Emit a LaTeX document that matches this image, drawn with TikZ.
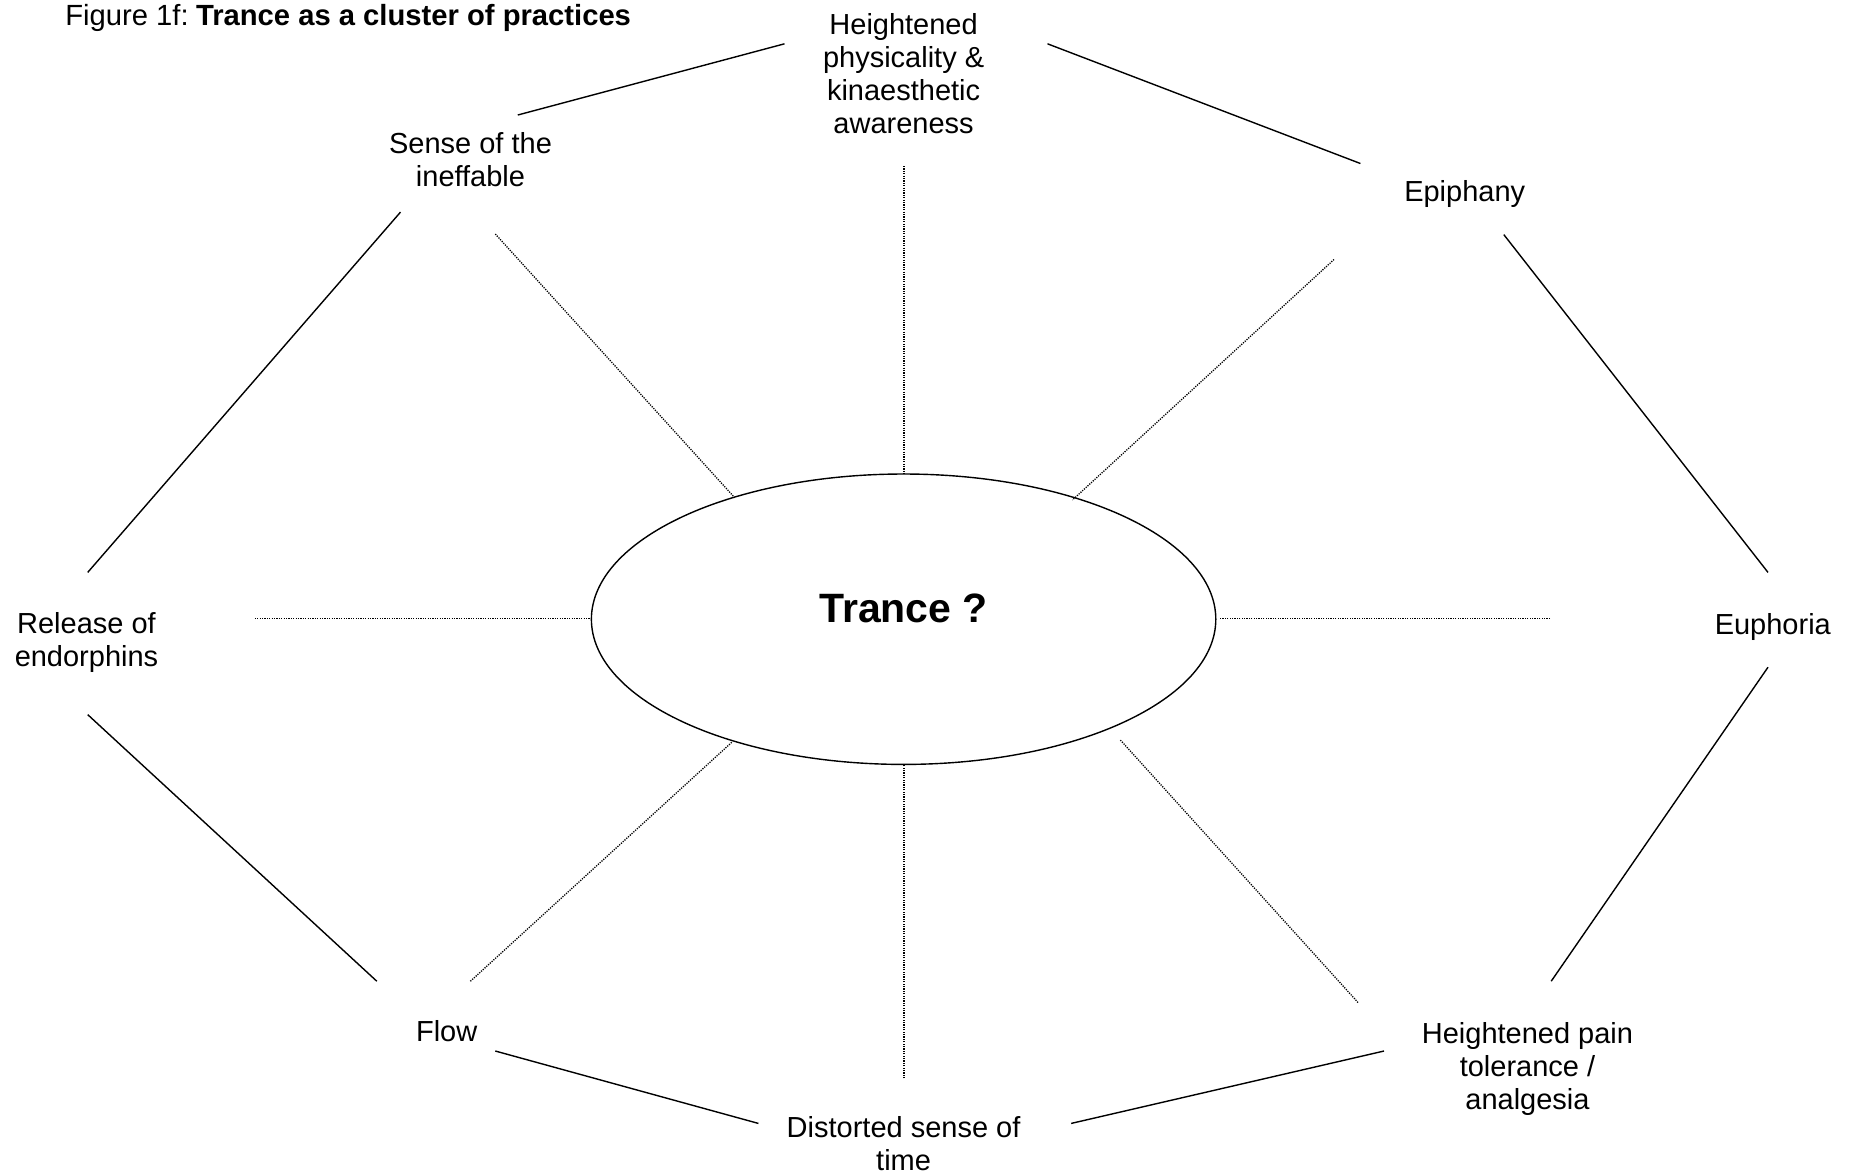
\documentclass[tikz,border=0pt]{standalone}
\usepackage{fontspec}
\setmainfont{Liberation Sans}
\usetikzlibrary{shapes.geometric}
\begin{document}
\begin{tikzpicture}[x=0.5pt,y=-0.5pt,
  lbl/.style={inner sep=0pt,align=center,anchor=base,font=\fontsize{14.5pt}{16.5pt}\selectfont},
  solidline/.style={line width=0.7pt},
  dotline/.style={line width=0.65pt,dash pattern=on 0.6pt off 0.6pt}]
\useasboundingbox (0,0) rectangle (1858,1175);
% title
\node[inner sep=0pt,anchor=base west,font=\fontsize{14.6pt}{16.5pt}\selectfont] (title) at (65,25) {Figure 1f:\hspace{0.25em}\textbf{Trance as a cluster of practices}};
% centre
\node[draw,ellipse,line width=0.7pt,minimum width=312.2pt,minimum height=145.2pt,inner sep=0pt] (tr) at (903.6,619.2) {};
\node[inner sep=0pt,anchor=base,font=\fontsize{20.5pt}{24pt}\selectfont\bfseries] (trl) at (903.6,622.5) {Trance ?};
% labels (base = baseline of last line)
\node[lbl] (hp) at (903.6,133.7) {Heightened\\physicality \&\\kinaesthetic\\awareness};
\node[lbl] (si) at (470.5,186) {Sense of the\\ineffable};
\node[lbl] (ep) at (1464.7,201) {Epiphany};
\node[lbl] (eu) at (1772.8,634) {Euphoria};
\node[lbl] (pt) at (1527.5,1109) {Heightened pain\\tolerance /\\analgesia};
\node[lbl] (dt) at (903.6,1170.5) {Distorted sense of\\time};
\node[lbl] (fl) at (446.7,1041.5) {Flow};
\node[lbl] (re) at (86.5,666) {Release of\\endorphins};
% solid connector ends
\coordinate (a1) at (517.8,115);   \coordinate (a2) at (784.5,43.8);
\coordinate (b1) at (1047.5,43.8); \coordinate (b2) at (1360.4,163.5);
\coordinate (c1) at (1503.8,234.6);\coordinate (c2) at (1768,572.4);
\coordinate (d1) at (1768,667.2);  \coordinate (d2) at (1551.2,981.2);
\coordinate (e1) at (1384,1051);   \coordinate (e2) at (1071.2,1123.4);
\coordinate (f1) at (758.4,1123.4);\coordinate (f2) at (495.3,1051);
\coordinate (g1) at (376.8,981.2); \coordinate (g2) at (87.7,714.6);
\coordinate (h1) at (87.7,572.4);  \coordinate (h2) at (400.5,212.1);
\draw[solidline] (a1) -- (a2);
\draw[solidline] (b1) -- (b2);
\draw[solidline] (c1) -- (c2);
\draw[solidline] (d1) -- (d2);
\draw[solidline] (e1) -- (e2);
\draw[solidline] (f1) -- (f2);
\draw[solidline] (g1) -- (g2);
\draw[solidline] (h1) -- (h2);
% dotted spokes
\coordinate (s1) at (904,166);     \coordinate (t1) at (904,474);
\coordinate (s2) at (1334,259.5);  \coordinate (t2) at (1072.4,500);
\coordinate (s3) at (1550,618.6);  \coordinate (t3) at (1219.4,618.6);
\coordinate (s4) at (1358,1002.5); \coordinate (t4) at (1119.8,739.4);
\coordinate (s5) at (904,1078.4);  \coordinate (t5) at (904,764.3);
\coordinate (s6) at (470.4,981.2); \coordinate (t6) at (732.3,741.8);
\coordinate (s7) at (254.8,618.6); \coordinate (t7) at (590,618.6);
\coordinate (s8) at (495.3,234);   \coordinate (t8) at (734.7,497.7);
\foreach \i in {1,...,8} {\draw[dotline] (s\i) -- (t\i);}
\end{tikzpicture}
\end{document}
